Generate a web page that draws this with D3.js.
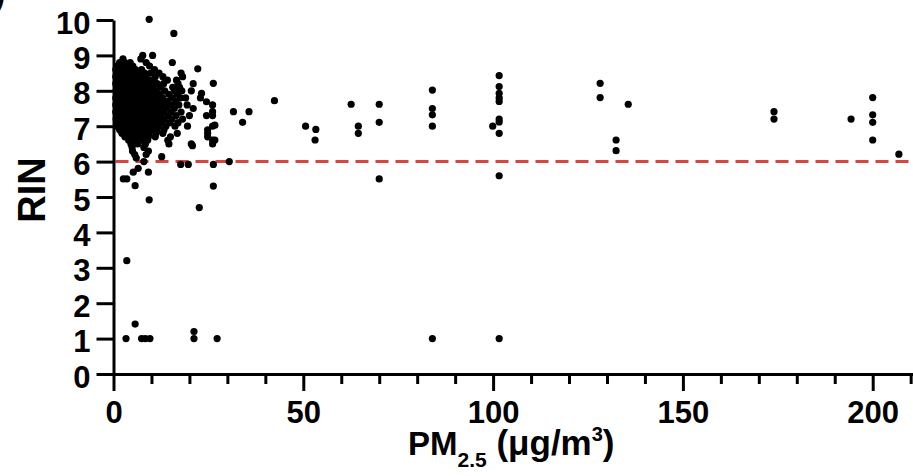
<!DOCTYPE html>
<html><head><meta charset="utf-8">
<script src="https://cdn.jsdelivr.net/npm/d3@7"></script>
<style>
body{margin:0;background:#fff}
svg{display:block}
text{font-family:"Liberation Sans",Arial,sans-serif;font-weight:bold;fill:#000}
</style>
</head><body>
<svg id="chart" width="913" height="476"></svg>
<script>
// ---- data ----
const yTickValues = [0,1,2,3,4,5,6,7,8,9,10];
const xTickValues = [0,50,100,150,200];
const xMinorTickValues = [10,20,30,40,60,70,80,90,110,120,130,140,160,170,180,190,210];
const rinThreshold = 6;

// dense cluster of low-PM2.5 samples [PM2.5, RIN]
const clusterPoints = [
 [7.7,9.0],[10.3,9.0],
 [2.5,8.9],[7.2,8.9],
 [1.6,8.8],[3.0,8.8],[4.4,8.8],[8.6,8.8],[15.5,8.8],
 [1.0,8.7],[2.2,8.7],[3.6,8.7],[5.1,8.7],[9.5,8.7],
 [0.6,8.6],[1.8,8.6],[3.0,8.6],[4.3,8.6],[5.8,8.6],[7.4,8.6],[10.8,8.6],[22.2,8.62],
 [0.9,8.5],[2.4,8.5],[3.7,8.5],[5.0,8.5],[6.5,8.5],[8.2,8.5],[9.8,8.5],[12.0,8.5],[17.8,8.5],
 [0.6,8.4],[1.7,8.4],[3.0,8.4],[4.4,8.4],[5.7,8.4],[7.0,8.4],[8.6,8.4],[11.0,8.4],[13.0,8.4],[18.2,8.4],
 [1.1,8.3],[2.3,8.3],[3.6,8.3],[4.9,8.3],[6.2,8.3],[7.6,8.3],[9.2,8.3],[10.5,8.3],[14.2,8.3],[16.6,8.3],
 [0.6,8.2],[1.8,8.2],[3.0,8.2],[4.2,8.2],[5.5,8.2],[6.8,8.2],[8.1,8.2],[9.7,8.2],[11.5,8.2],[13.2,8.2],[17.0,8.2],[21.0,8.2],[26.3,8.21],
 [1.2,8.1],[2.4,8.1],[3.7,8.1],[5.0,8.1],[6.2,8.1],[7.5,8.1],[8.9,8.1],[10.4,8.1],[12.4,8.1],[15.6,8.1],[17.4,8.1],
 [0.7,8.0],[1.9,8.0],[3.1,8.0],[4.4,8.0],[5.7,8.0],[7.0,8.0],[8.3,8.0],[9.6,8.0],[11.2,8.0],[13.5,8.0],[16.1,8.0],[18.0,8.0],[20.5,8.0],
 [1.3,7.9],[2.6,7.9],[3.8,7.9],[5.1,7.9],[6.4,7.9],[7.8,7.9],[9.1,7.9],[10.5,7.9],[12.2,7.9],[14.6,7.9],[16.8,7.9],[23.2,7.93],
 [0.6,7.8],[2.0,7.8],[3.2,7.8],[4.5,7.8],[5.8,7.8],[7.1,7.8],[8.5,7.8],[9.9,7.8],[11.4,7.8],[13.0,7.8],[15.5,7.8],[17.6,7.8],[19.0,7.8],[22.9,7.8],
 [1.1,7.7],[2.5,7.7],[3.8,7.7],[5.1,7.7],[6.4,7.7],[7.7,7.7],[9.2,7.7],[10.8,7.7],[12.5,7.7],[14.2,7.7],[16.4,7.7],[24.5,7.69],
 [0.6,7.6],[1.8,7.6],[3.1,7.6],[4.4,7.6],[5.7,7.6],[7.0,7.6],[8.4,7.6],[9.8,7.6],[11.4,7.6],[13.1,7.6],[15.0,7.6],[17.2,7.6],[19.4,7.6],[26.1,7.6],
 [1.2,7.5],[2.5,7.5],[3.8,7.5],[5.1,7.5],[6.4,7.5],[7.8,7.5],[9.2,7.5],[10.6,7.5],[12.2,7.5],[14.0,7.5],[16.0,7.5],[21.0,7.5],
 [0.6,7.4],[1.9,7.4],[3.2,7.4],[4.5,7.4],[5.8,7.4],[7.1,7.4],[8.5,7.4],[9.9,7.4],[11.6,7.4],[13.2,7.4],[15.2,7.4],[17.8,7.4],[26.1,7.41],
 [1.2,7.3],[2.6,7.3],[3.9,7.3],[5.2,7.3],[6.5,7.3],[7.9,7.3],[9.3,7.3],[10.8,7.3],[12.4,7.3],[14.4,7.3],[16.5,7.3],[20.0,7.3],[24.5,7.3],[26.1,7.3],
 [0.7,7.2],[2.0,7.2],[3.3,7.2],[4.6,7.2],[5.9,7.2],[7.2,7.2],[8.6,7.2],[10.1,7.2],[11.7,7.2],[13.4,7.2],[15.4,7.2],[18.2,7.2],
 [1.3,7.1],[2.7,7.1],[4.0,7.1],[5.3,7.1],[6.6,7.1],[8.0,7.1],[9.4,7.1],[11.0,7.1],[12.8,7.1],[14.8,7.1],[17.0,7.1],
 [0.8,7.0],[2.1,7.0],[3.4,7.0],[4.7,7.0],[6.0,7.0],[7.3,7.0],[8.7,7.0],[10.2,7.0],[11.8,7.0],[13.8,7.0],[16.2,7.0],[19.5,7.0],[26.7,7.03],[26.1,7.0],
 [1.6,6.9],[3.0,6.9],[4.3,6.9],[5.6,6.9],[7.0,6.9],[8.4,6.9],[9.9,6.9],[11.5,6.9],[13.3,6.9],[24.8,6.9],
 [2.2,6.8],[3.6,6.8],[5.0,6.8],[6.4,6.8],[7.9,6.8],[9.4,6.8],[11.2,6.8],[13.0,6.8],[16.8,6.8],[24.8,6.8],
 [3.0,6.7],[4.5,6.7],[6.0,6.7],[7.6,6.7],[9.2,6.7],[11.0,6.7],[15.0,6.7],[24.8,6.7],
 [4.0,6.6],[5.6,6.6],[7.2,6.6],[9.0,6.6],[14.3,6.6],[26.1,6.61],[26.7,6.61],
 [4.6,6.5],[6.4,6.5],[8.4,6.5],[14.6,6.5],[20.5,6.5],[26.1,6.5],
 [4.9,6.4],[8.0,6.4],[20.8,6.45],
 [5.0,6.3],[9.2,6.3],
 [5.6,6.2],[8.6,6.2],
 [6.0,6.1],[12.7,6.14],
 [8.0,6.0],
 [17.7,5.92],[19.7,5.92],[26.3,5.92],
 [6.5,5.81],[5.2,5.7],[9.2,5.7],
 [2.6,5.51],[3.5,5.51],
 [5.7,5.32],[26.3,5.31],
 [9.4,4.92],[22.6,4.7],
 [9.4,10.02],[15.9,9.62]
];

// scattered moderate/high PM2.5 samples [PM2.5, RIN]
const scatteredPoints = [
 [42.4,7.72],[31.6,7.41],[35.7,7.41],[34.0,7.11],[30.5,6.0],
 [50.6,7.0],[53.3,6.91],[53.1,6.61],
 [62.6,7.62],[64.5,7.0],[64.5,6.8],
 [70.0,7.62],[70.0,7.11],[70.0,5.51],
 [84.0,8.02],[84.0,7.5],[84.0,7.32],[84.0,7.0],
 [101.6,8.43],[101.6,8.12],[101.6,7.93],[101.6,7.8],[101.6,7.7],[101.6,7.2],[101.6,7.12],[99.9,7.0],[101.6,6.8],[101.6,5.6],
 [128.2,8.21],[128.2,7.81],[135.6,7.62],[132.4,6.61],[132.4,6.31],
 [174.0,7.41],[174.0,7.2],[194.3,7.2],
 [200.0,7.81],[200.0,7.32],[200.0,7.11],[200.0,6.61],[206.9,6.21]
];

// degraded samples with very low RIN [PM2.5, RIN]
const lowRinPoints = [
 [3.5,3.2],[5.7,1.41],[3.3,1.0],[7.4,1.0],[8.4,1.0],[9.6,1.0],
 [21.2,1.2],[21.2,1.0],[27.3,1.0],[84.0,1.0],[101.6,1.0]
];

// ---- drawing ----
const svg = d3.select("#chart");
const x = d3.scaleLinear().domain([0, 211]).range([113.5, 113.5 + 211 * 3.796]);
const y = d3.scaleLinear().domain([0, 10]).range([374, 20]);

// panel letter fragment at top-left
svg.append("text").attr("x", -7).attr("y", 5).attr("font-size", 38).text(")");

// threshold line
svg.append("line")
  .attr("x1", x(0) + 2).attr("x2", 913)
  .attr("y1", y(rinThreshold)).attr("y2", y(rinThreshold))
  .attr("stroke", "#d8453c").attr("stroke-width", 3)
  .attr("stroke-dasharray", "13,7");

// points
const allPoints = clusterPoints.concat(scatteredPoints, lowRinPoints);
svg.append("g").selectAll("circle").data(allPoints).join("circle")
  .attr("cx", d => x(d[0])).attr("cy", d => y(d[1]))
  .attr("r", 3.6).attr("fill", "#000");

// x minor ticks
const xMinor = d3.axisBottom(x).tickValues(xMinorTickValues).tickSize(10).tickFormat("").tickSizeOuter(0);
const gxm = svg.append("g").attr("transform", `translate(0,${y(0)})`).call(xMinor);
gxm.select(".domain").remove();
gxm.selectAll("line").attr("stroke", "#000").attr("stroke-width", 3);

// x axis
const xAxis = d3.axisBottom(x).tickValues(xTickValues).tickSize(17).tickSizeOuter(0).tickPadding(10);
const gx = svg.append("g").attr("transform", `translate(0,${y(0)})`).call(xAxis);
gx.select(".domain").attr("stroke", "#000").attr("stroke-width", 3);
gx.selectAll(".tick line").attr("stroke", "#000").attr("stroke-width", 3);
gx.selectAll(".tick text").attr("font-size", 31).attr("font-family", null).attr("fill", "#000");

// y axis
const yAxis = d3.axisLeft(y).tickValues(yTickValues).tickSize(17).tickSizeOuter(0).tickPadding(6);
const gy = svg.append("g").attr("transform", `translate(${x(0)},0)`).call(yAxis);
gy.select(".domain").attr("stroke", "#000").attr("stroke-width", 3);
gy.selectAll(".tick line").attr("stroke", "#000").attr("stroke-width", 3);
gy.selectAll(".tick text").attr("font-size", 31).attr("font-family", null).attr("fill", "#000").attr("dy", "0.42em");

// y title
svg.append("text")
  .attr("transform", "translate(45,190) rotate(-90)")
  .attr("text-anchor", "middle").attr("font-size", 38).text("RIN");

// x title
const xt = svg.append("text").attr("x", 408).attr("y", 455).attr("font-size", 33);
xt.append("tspan").text("PM");
xt.append("tspan").attr("font-size", 21).attr("dy", 12).text("2.5");
xt.append("tspan").attr("font-size", 35).attr("dy", -12).text(" (μg/m");
xt.append("tspan").attr("font-size", 20).attr("dy", -14).text("3");
xt.append("tspan").attr("font-size", 35).attr("dy", 14).text(")");
</script>
</body></html>
